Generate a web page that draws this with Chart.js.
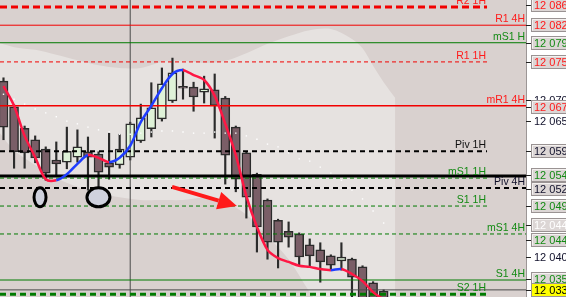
<!DOCTYPE html>
<html>
<head>
<meta charset="utf-8">
<script src="https://cdn.jsdelivr.net/npm/chart.js@4.4.0/dist/chart.umd.min.js"></script>
<style>
  html, body { margin: 0; padding: 0; background: #fff; }
  #wrap { width: 566px; height: 297px; position: relative; }
</style>
</head>
<body>
<div id="wrap"><canvas id="myChart"></canvas></div>
<script>
// candles, one per bar from the left
var opens  = [12.0718, 12.0671, 12.0632, 12.0611, 12.0594, 12.0574, 12.0570, 12.0579, 12.0589, 12.0585, 12.0569, 12.0565, 12.0579, 12.0609, 12.0631, 12.0649, 12.0682, 12.0705, 12.0707, 12.0698, 12.0702, 12.0687, 12.0634, 12.0587, 12.0548, 12.0501, 12.0464, 12.0444, 12.0439, 12.0419, 12.0410, 12.0399, 12.0390, 12.0393, 12.0379, 12.0350, 12.0335];
var highs  = [12.0724, 12.0675, 12.0636, 12.0618, 12.0598, 12.0607, 12.0634, 12.0629, 12.0616, 12.0589, 12.0623, 12.0621, 12.0643, 12.0676, 12.0715, 12.0742, 12.0760, 12.0740, 12.0716, 12.0727, 12.0731, 12.0690, 12.0636, 12.0589, 12.0550, 12.0503, 12.0466, 12.0461, 12.0441, 12.0430, 12.0423, 12.0401, 12.0423, 12.0395, 12.0381, 12.0352, 12.0337];
var lows   = [12.0611, 12.0559, 12.0559, 12.0569, 12.0537, 12.0547, 12.0558, 12.0570, 12.0519, 12.0523, 12.0539, 12.0559, 12.0574, 12.0606, 12.0616, 12.0645, 12.0679, 12.0685, 12.0663, 12.0678, 12.0614, 12.0530, 12.0516, 12.0468, 12.0406, 12.0393, 12.0377, 12.0415, 12.0381, 12.0381, 12.0351, 12.0373, 12.0373, 12.0318, 12.0300, 12.0290, 12.0290];
var closes = [12.0634, 12.0589, 12.0587, 12.0578, 12.0550, 12.0567, 12.0590, 12.0598, 12.0579, 12.0552, 12.0561, 12.0594, 12.0640, 12.0651, 12.0669, 12.0713, 12.0733, 12.0705, 12.0689, 12.0704, 12.0673, 12.0583, 12.0539, 12.0506, 12.0452, 12.0424, 12.0424, 12.0433, 12.0397, 12.0399, 12.0388, 12.0382, 12.0397, 12.0360, 12.0318, 12.0305, 12.0305];

// moving average (blue rising, red falling) and the white dots
var maValues = [12.0709, 12.0673, 12.0618, 12.0579, 12.0539, 12.0537, 12.0548, 12.0567, 12.0583, 12.0578, 12.0570, 12.0578, 12.0600, 12.0643, 12.0673, 12.0705, 12.0731, 12.0738, 12.0729, 12.0720, 12.0691, 12.0640, 12.0583, 12.0508, 12.0452, 12.0410, 12.0395, 12.0388, 12.0381, 12.0379, 12.0375, 12.0373, 12.0375, 12.0366, 12.0353, 12.0333, 12.0319];
var dotValues = [12.0694, 12.0685, 12.0676, 12.0667, 12.0660, 12.0653, 12.0645, 12.0640, 12.0634, 12.0629, 12.0625, 12.0621, 12.0621, 12.0623, 12.0625, 12.0627, 12.0627, 12.0625, 12.0623, 12.0623, 12.0625, 12.0623, 12.0623, 12.0618, 12.0612, 12.0603, 12.0598, 12.0587, 12.0576, 12.0572, 12.0561, 12.0550, 12.0537, 12.0519, 12.0503, 12.0481, 12.0459];

// light band behind the price
var bandX     = [-0.5, 1, 3, 5, 7, 9, 11, 13, 15, 17, 19, 21, 23, 25, 27, 29, 31, 33, 34, 35, 36, 37.1];
var bandUpper = [12.0788, 12.0780, 12.0775, 12.0766, 12.0756, 12.0747, 12.0742, 12.0742, 12.0753, 12.0755, 12.0751, 12.0755, 12.0769, 12.0786, 12.0800, 12.0811, 12.0813, 12.0795, 12.0778, 12.0746, 12.0716, 12.0687];
var bandLower = [12.0627, 12.0592, 12.0565, 12.0541, 12.0525, 12.0514, 12.0506, 12.0501, 12.0501, 12.0501, 12.0505, 12.0497, 12.0474, 12.0435, 12.0393, 12.0333, 12.0282, 12.0246, 12.0227, 12.0209, 12.0191, 12.0172];

// pivot levels
var levelNames  = ["R2 1H", "R1 4H", "mS1 H", "R1 1H", "mR1 4H", "Piv 1H", "mS1 1H", "Piv 4H", "S1 1H", "mS1 4H", "S1 4H", "S2 1H"];
var levelPrices = [12.0853, 12.0820, 12.0788, 12.0753, 12.0673, 12.0590, 12.0541, 12.0523, 12.0490, 12.0439, 12.0355, 12.0329];
var blackLine = 12.0545;
var currentPrice = 12.0337;
var separatorBar = 12;

// right price scale
var axisTexts  = ["12 086", "12 082", "12 079", "12 075", "12 070", "12 067", "12 065", "12 059", "12 054", "12 052", "12 049", "12 044", "12 044", "12 040", "12 035", "12 033"];
var axisPrices = [12.0857, 12.0821, 12.0788, 12.0753, 12.0683, 12.0671, 12.0645, 12.0590, 12.0547, 12.0521, 12.0490, 12.0455, 12.0428, 12.0397, 12.0357, 12.0337];

var X_MIN = -0.331, X_MAX = 49.48, Y_MIN = 12.0324, Y_MAX = 12.0866;
var RED = "#f20000", GREEN = "#007a00", BLACK = "#000000";
var FONT = '"Liberation Sans", Arial, sans-serif';

// styles for the level lines
var levelStyle = {
    "R2 1H":  {color: RED,   width: 3,   dash: [7, 4], short: true},
    "R1 4H":  {color: RED,   width: 1,   dash: [],     short: false},
    "mS1 H":  {color: GREEN, width: 1,   dash: [],     short: false},
    "R1 1H":  {color: RED,   width: 1,   dash: [4, 3], short: true},
    "mR1 4H": {color: RED,   width: 1.5, dash: [],     short: false},
    "Piv 1H": {color: BLACK, width: 2,   dash: [5, 4], short: true},
    "mS1 1H": {color: GREEN, width: 1,   dash: [4, 3], short: true},
    "Piv 4H": {color: BLACK, width: 2,   dash: [5, 4], short: false},
    "S1 1H":  {color: GREEN, width: 1,   dash: [4, 3], short: true},
    "mS1 4H": {color: GREEN, width: 1,   dash: [4, 3], short: false},
    "S1 4H":  {color: GREEN, width: 1,   dash: [],     short: false},
    "S2 1H":  {color: GREEN, width: 3,   dash: [6, 4], short: true}
};
var levelText = {"Piv 1H": "#101010", "Piv 4H": "#10102a"};
var SHORT_END = 45.79;

var axisStyle = ["red", "red", "green", "red", "plain", "red", "plain", "dark", "green", "dark", "green", "white", "green", "plain", "green", "current"];

var datasets = [];

datasets.push({
    type: "line", label: "ma", order: 0,
    data: maValues.map(function(v, i) { return {x: i, y: v}; }),
    borderWidth: 2.5, pointRadius: 0, pointHoverRadius: 0, tension: 0.3,
    borderColor: "#ff1744",
    segment: {
        borderColor: function(ctx) { return ctx.p1.parsed.y > ctx.p0.parsed.y ? "#1f3dff" : "#ff1744"; }
    }
});

datasets.push({
    type: "line", label: "dots", order: 1, showLine: false,
    data: dotValues.map(function(v, i) { return {x: i, y: v}; }),
    pointStyle: "rect", pointRadius: 1, pointBorderWidth: 0,
    pointBackgroundColor: "#ffffff"
});

levelNames.forEach(function(name, i) {
    var s = levelStyle[name];
    datasets.push({
        type: "line", label: name, order: 2,
        data: [{x: X_MIN, y: levelPrices[i]}, {x: s.short ? SHORT_END : X_MAX, y: levelPrices[i]}],
        borderColor: s.color, borderWidth: s.width, borderDash: s.dash, pointRadius: 0
    });
});

datasets.push({
    type: "line", label: "black", order: 2,
    data: [{x: X_MIN, y: blackLine}, {x: X_MAX, y: blackLine}],
    borderColor: "#000", borderWidth: 3, pointRadius: 0
});
datasets.push({
    type: "line", label: "price", order: 2,
    data: [{x: X_MIN, y: currentPrice}, {x: X_MAX, y: currentPrice}],
    borderColor: "#4a4a4a", borderWidth: 1, pointRadius: 0
});
datasets.push({
    type: "line", label: "sep", order: 2,
    data: [{x: separatorBar, y: Y_MIN}, {x: separatorBar, y: Y_MAX}],
    borderColor: "#4a4a4a", borderWidth: 1, pointRadius: 0
});

datasets.push({
    type: "bar", label: "body", order: 3, grouped: false,
    data: opens.map(function(o, i) { return {x: i, y: [o, closes[i]]}; }),
    backgroundColor: function(ctx) {
        var i = ctx.dataIndex;
        return closes[i] > opens[i] ? "#dff2d8" : "#7a5e67";
    },
    borderColor: "#2b2b2b", borderWidth: 1.5, borderSkipped: false,
    barThickness: 9, minBarLength: 2
});
datasets.push({
    type: "bar", label: "wick", order: 4, grouped: false,
    data: lows.map(function(l, i) { return {x: i, y: [l, highs[i]]}; }),
    backgroundColor: "#2b2b2b", borderWidth: 0, barThickness: 1.5
});

datasets.push({
    type: "line", label: "bandUpper", order: 5,
    data: bandX.map(function(x, i) { return {x: x, y: bandUpper[i]}; }),
    borderWidth: 0, borderColor: "rgba(0,0,0,0)", pointRadius: 0, tension: 0.3,
    fill: "+1", backgroundColor: "#e6e2e0"
});
datasets.push({
    type: "line", label: "bandLower", order: 6,
    data: bandX.map(function(x, i) { return {x: x, y: bandLower[i]}; }),
    borderWidth: 0, borderColor: "rgba(0,0,0,0)", pointRadius: 0, tension: 0.3
});

// hand drawn marks on the chart
var marks = {
    ellipses: [{x: 3.46, y: 12.0506, rx: 6, ry: 9.5}, {x: 8.99, y: 12.0506, rx: 11.5, ry: 9.5}],
    arrow: {x0: 15.96, y0: 12.0525, x1: 22.1, y1: 12.0490}
};

var backgroundPlugin = {
    id: "bg",
    beforeDraw: function(chart) {
        var ctx = chart.ctx, a = chart.chartArea;
        ctx.save();
        ctx.fillStyle = "#ffffff";
        ctx.fillRect(0, 0, chart.width, chart.height);
        ctx.fillStyle = "#d9d1cf";
        ctx.fillRect(a.left, a.top, a.right - a.left, a.bottom - a.top);
        ctx.restore();
    }
};

var labelPlugin = {
    id: "levelLabels",
    afterDatasetsDraw: function(chart) {
        var ctx = chart.ctx, xs = chart.scales.x, ys = chart.scales.y;
        ctx.save();
        ctx.font = "10.5px " + FONT;
        ctx.textAlign = "right";
        ctx.textBaseline = "alphabetic";
        levelNames.forEach(function(name, i) {
            var s = levelStyle[name];
            var x = xs.getPixelForValue(s.short ? SHORT_END : X_MAX) - 1;
            var y = ys.getPixelForValue(levelPrices[i]) - 3;
            ctx.fillStyle = levelText[name] || (s.color == RED ? "#ff1a1a" : "#138a13");
            ctx.fillText(name, x, y);
        });

        // ellipses
        marks.ellipses.forEach(function(e) {
            var cx = xs.getPixelForValue(e.x), cy = ys.getPixelForValue(e.y);
            ctx.beginPath();
            ctx.ellipse(cx, cy, e.rx, e.ry, 0, 0, Math.PI * 2);
            ctx.fillStyle = "#cfd1dd";
            ctx.fill();
            ctx.lineWidth = 3;
            ctx.strokeStyle = "#000";
            ctx.stroke();
        });

        // arrow
        var ar = marks.arrow;
        var x0 = xs.getPixelForValue(ar.x0), y0 = ys.getPixelForValue(ar.y0);
        var x1 = xs.getPixelForValue(ar.x1), y1 = ys.getPixelForValue(ar.y1);
        var ang = Math.atan2(y1 - y0, x1 - x0);
        var hl = 19, hw = 9;
        var bx = x1 - hl * Math.cos(ang), by = y1 - hl * Math.sin(ang);
        ctx.strokeStyle = "#ff1a1a";
        ctx.fillStyle = "#ff1a1a";
        ctx.lineWidth = 4;
        ctx.beginPath();
        ctx.moveTo(x0, y0);
        ctx.lineTo(bx, by);
        ctx.stroke();
        ctx.beginPath();
        ctx.moveTo(x1, y1);
        ctx.lineTo(bx + hw * Math.sin(ang), by - hw * Math.cos(ang));
        ctx.lineTo(bx - hw * Math.sin(ang), by + hw * Math.cos(ang));
        ctx.closePath();
        ctx.fill();
        ctx.restore();
    }
};

var axisPlugin = {
    id: "priceAxis",
    afterDraw: function(chart) {
        var ctx = chart.ctx, a = chart.chartArea, ys = chart.scales.y;
        var colors = {red: "#ff1a1a", green: "#138a13", dark: "#10102a", white: "#ffffff", plain: "#10102a", current: "#000"};
        ctx.save();
        ctx.fillStyle = "#ffffff";
        ctx.fillRect(a.right, 0, chart.width - a.right, chart.height);
        ctx.strokeStyle = "#9c9696";
        ctx.lineWidth = 1;
        ctx.beginPath();
        ctx.moveTo(a.right + 0.5, 0);
        ctx.lineTo(a.right + 0.5, chart.height);
        ctx.stroke();
        ctx.font = "11px " + FONT;
        ctx.textBaseline = "middle";
        ctx.textAlign = "left";
        axisTexts.forEach(function(t, i) {
            var y = Math.round(ys.getPixelForValue(axisPrices[i]));
            var kind = axisStyle[i];
            ctx.strokeStyle = "#222";
            ctx.beginPath();
            ctx.moveTo(a.right, y + 0.5);
            ctx.lineTo(a.right + 5, y + 0.5);
            ctx.stroke();
            if (kind != "plain") {
                var bx = a.right + 5.5, by = y - 6.5;
                ctx.fillStyle = kind == "current" ? "#ffff00" : "#dcd6d5";
                ctx.fillRect(bx, by, 45, 13);
                ctx.strokeStyle = "#9a9393";
                ctx.strokeRect(bx, by, 45, 13);
                if (kind != "current") {
                    ctx.strokeStyle = "#f4f1f0";
                    ctx.beginPath();
                    ctx.moveTo(bx + 1, by + 12);
                    ctx.lineTo(bx + 1, by + 1);
                    ctx.lineTo(bx + 44, by + 1);
                    ctx.stroke();
                }
            }
            ctx.fillStyle = colors[kind];
            ctx.fillText(t, a.right + 8, y + 0.5);
        });
        ctx.restore();
    }
};

new Chart("myChart", {
    type: "bar",
    data: {datasets: datasets},
    options: {
        responsive: true,
        maintainAspectRatio: false,
        animation: false,
        events: [],
        layout: {autoPadding: false, padding: {left: 0, top: 0, bottom: 0, right: 40}},
        plugins: {
            legend: {display: false},
            tooltip: {enabled: false}
        },
        scales: {
            x: {type: "linear", min: X_MIN, max: X_MAX, offset: false, display: false},
            y: {type: "linear", min: Y_MIN, max: Y_MAX, display: false}
        }
    },
    plugins: [backgroundPlugin, labelPlugin, axisPlugin]
});
</script>
</body>
</html>
